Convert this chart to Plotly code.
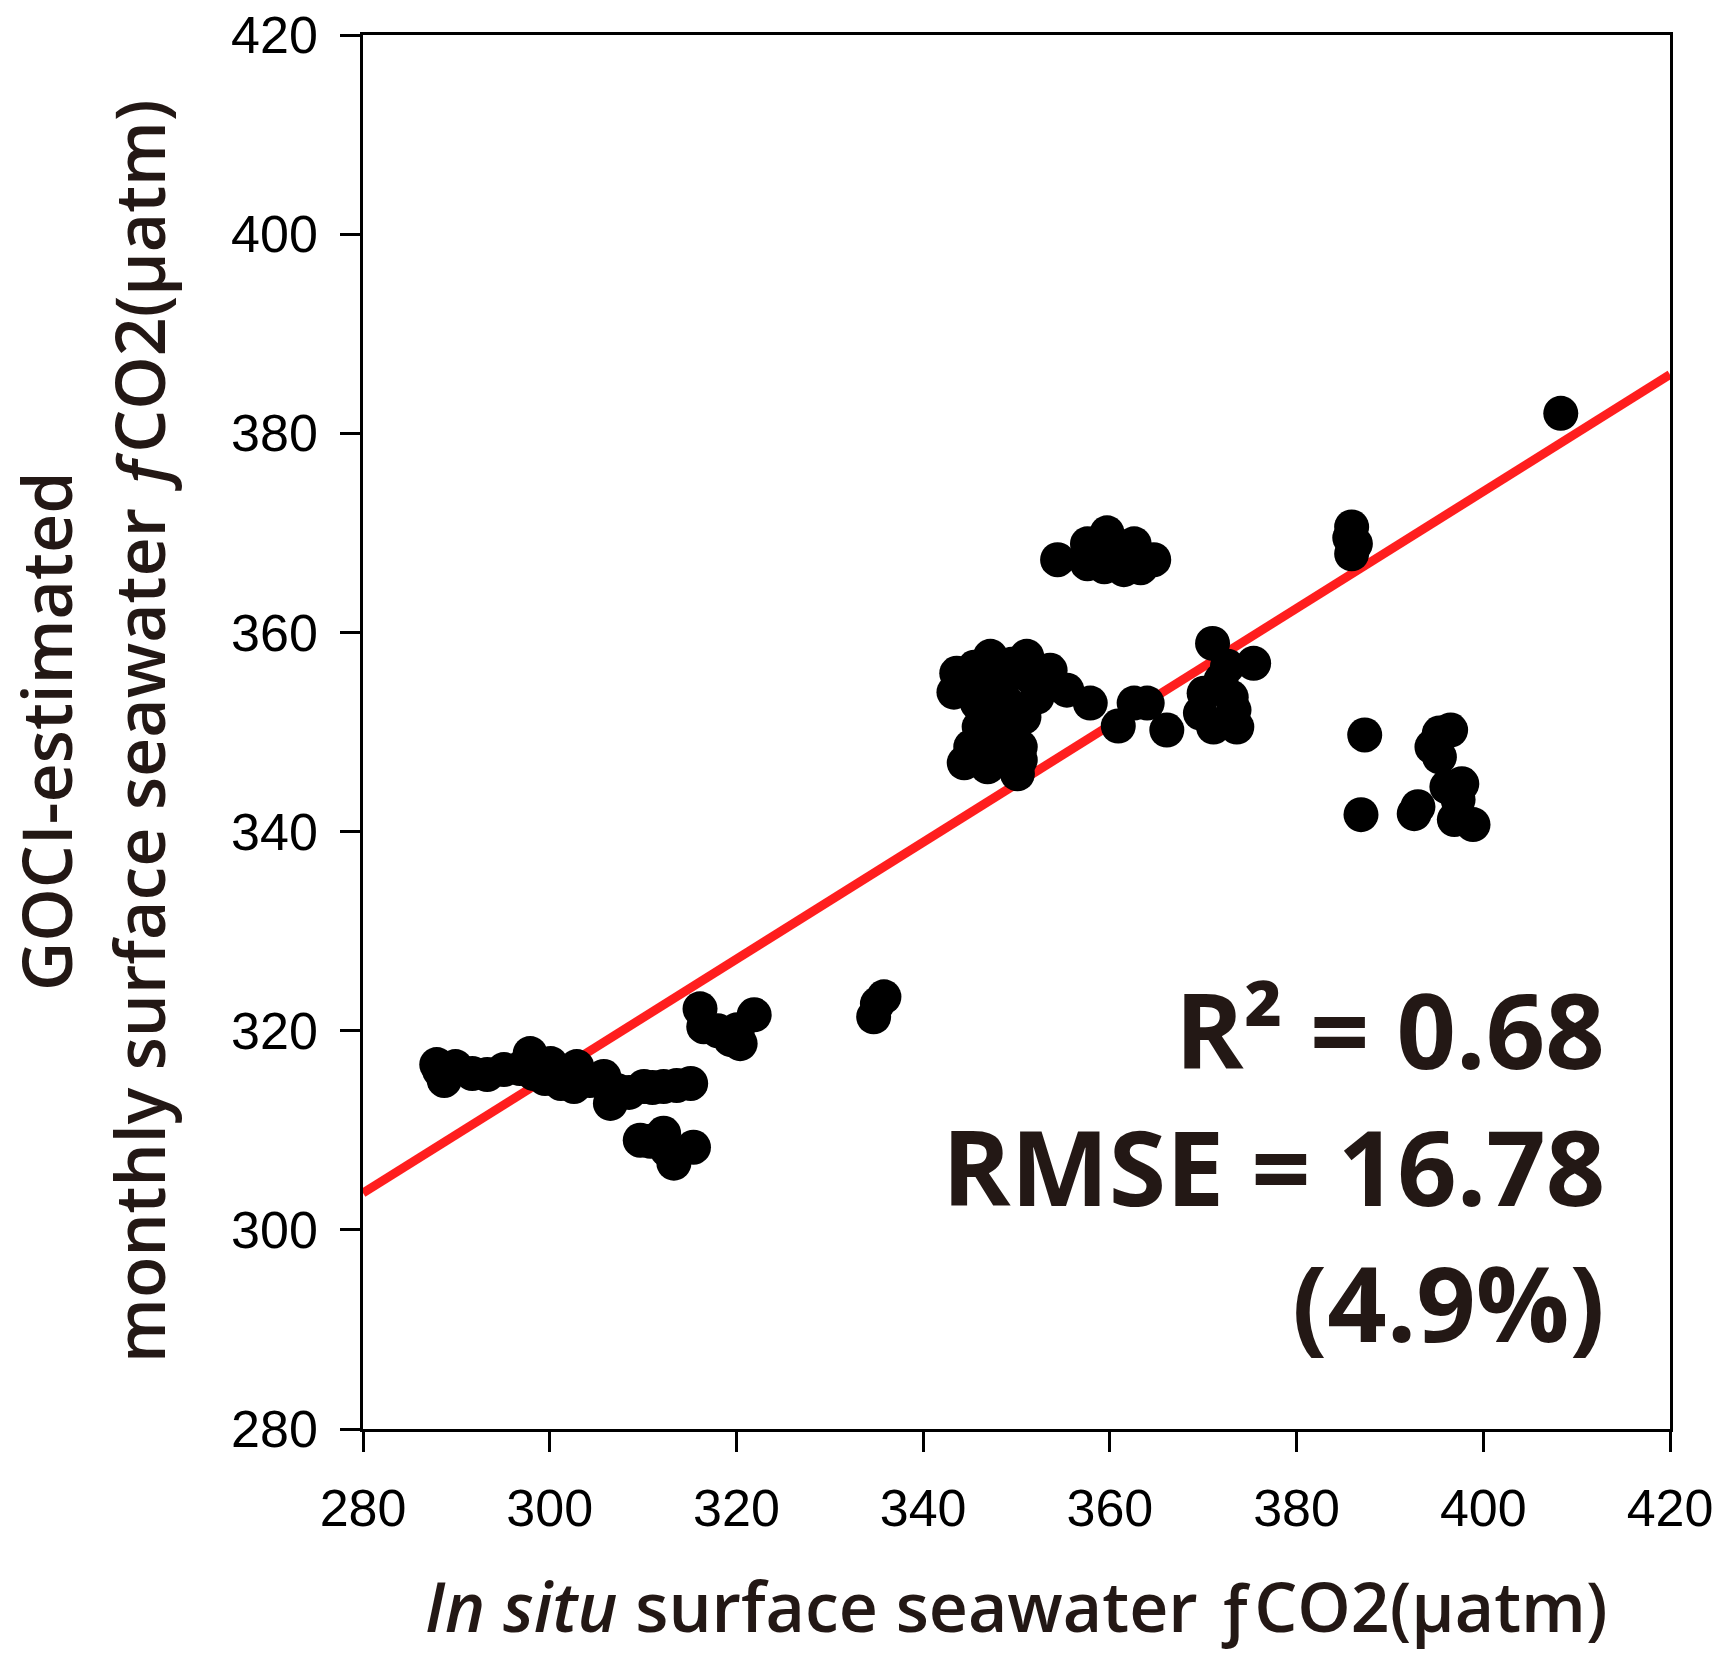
import plotly.graph_objects as go

# ---- data ----
insitu_fco2 = [
    287.9, 288.2, 288.7, 289.9, 291.7, 293.3, 295.1, 296.8, 297.9, 298.3, 299.5, 300.1,
    301.2, 302.9, 302.6, 304.3, 305.8, 306.5, 307.2, 308.5, 310.1, 311.0, 312.2, 313.6, 315.1,
    309.7, 310.8, 312.2, 312.6, 313.3, 315.4,
    316.1, 316.5, 318.0, 319.4, 320.1, 320.4, 321.9,
    334.7, 335.1, 335.8,
    343.3, 343.6, 344.8, 345.5, 345.8, 346.5, 347.2, 348.6, 349.0, 349.5, 351.1, 351.5,
    352.2, 353.6, 355.4, 357.9, 350.8, 348.0, 346.0,
    344.4, 345.1, 346.9, 347.9, 348.5, 349.7, 350.1, 350.4, 350.4,
    360.9, 362.6, 364.0, 366.1,
    369.7, 370.1, 371.0, 371.1, 371.9, 372.6, 373.0, 373.3, 373.6, 375.4,
    354.4, 357.6, 357.6, 358.5, 359.4, 359.7, 361.1, 361.5, 362.6, 363.3, 364.7,
    385.7, 385.9, 385.9, 386.3,
    387.3, 386.9, 392.6, 393.0, 394.5, 395.3, 395.3, 396.1, 396.5, 396.9, 397.3, 397.7, 398.9,
    408.3,
]
goci_fco2 = [
    316.6, 316.0, 315.0, 316.4, 315.7, 315.6, 316.1, 316.2, 317.7, 315.7, 315.2, 316.7,
    314.7, 316.4, 314.4, 315.0, 315.4, 312.7, 314.0, 313.8, 314.4, 314.3, 314.4, 314.5, 314.7,
    309.0, 308.9, 309.7, 308.0, 306.7, 308.3,
    322.2, 320.4, 320.0, 319.1, 320.1, 318.7, 321.6,
    321.4, 322.7, 323.4,
    354.0, 355.9, 355.0, 356.5, 352.9, 354.5, 357.6, 355.2, 352.9, 356.8, 357.6, 355.5,
    353.5, 356.2, 354.2, 352.9, 351.5, 351.0, 350.5,
    346.9, 348.5, 346.5, 349.5, 347.5, 350.5, 345.8, 348.5, 347.2,
    350.6, 352.9, 352.9, 350.2,
    351.9, 353.9, 358.9, 350.5, 355.2, 356.6, 353.5, 352.2, 350.5, 356.9,
    367.3, 368.9, 366.9, 368.0, 366.6, 370.0, 367.9, 366.3, 368.9, 366.5, 367.3,
    369.5, 370.6, 367.9, 368.9,
    349.7, 341.7, 341.8, 342.5, 348.5, 349.9, 347.5, 344.5, 350.2, 341.2, 343.2, 344.8, 340.7,
    382.0,
]
fit_x = [280, 420]
fit_y = [303.7, 385.9]

tick_vals = [280, 300, 320, 340, 360, 380, 400, 420]
tick_text = ["280", "300", "320", "340", "360", "380", "400", "420"]

x_title = "<i>In situ</i> surface seawater ƒCO2(µatm)"
y_title_1 = "GOCI-estimated"
y_title_2 = "monthly surface seawater <i>ƒ</i>CO2(µatm)"
stats_lines = ["R² = 0.68", "RMSE = 16.78", "(4.9%)"]

TEXT_COLOR = "#231815"
TITLE_FONT = dict(family="Open Sans", size=68, color=TEXT_COLOR, weight=600)

fig = go.Figure()
fig.add_trace(go.Scatter(
    x=fit_x, y=fit_y, mode="lines",
    line=dict(color="#ff1e1e", width=9), showlegend=False, hoverinfo="skip",
))
fig.add_trace(go.Scatter(
    x=insitu_fco2, y=goci_fco2, mode="markers",
    marker=dict(color="black", size=35, line=dict(width=0)),
    showlegend=False,
))

axis_common = dict(
    range=[280, 420], tickvals=tick_vals, ticktext=tick_text,
    showgrid=False, zeroline=False,
    showline=True, linecolor="black", linewidth=2.5, mirror=True,
    ticks="outside", ticklen=20, tickwidth=2.5, tickcolor="black",
    tickfont=dict(family="Liberation Sans, Arial, sans-serif", size=52, color="black"),
)
fig.update_xaxes(**axis_common, ticklabelstandoff=12)
fig.update_yaxes(**axis_common, ticklabelstandoff=12)

annotations = [
    dict(text=x_title, xref="paper", yref="paper", x=0.5, y=0, xanchor="center",
         yanchor="middle", yshift=-176, showarrow=False, font=TITLE_FONT),
    dict(text=y_title_1, xref="paper", yref="paper", x=0, y=0.5, xanchor="center",
         yanchor="middle", xshift=-318, textangle=-90, showarrow=False, font=TITLE_FONT),
    dict(text=y_title_2, xref="paper", yref="paper", x=0, y=0.5, xanchor="center",
         yanchor="middle", xshift=-225, textangle=-90, showarrow=False, font=TITLE_FONT),
]
stat_centers_px = [1028, 1165, 1301]  # vertical centre of each line (page px)
for line, cy in zip(stats_lines, stat_centers_px):
    annotations.append(dict(
        text=line, xref="paper", yref="paper", x=(1607 - 363) / 1307,
        y=(1429 - cy) / 1394, xanchor="right", yanchor="middle", showarrow=False,
        font=dict(family="Open Sans", size=104, color=TEXT_COLOR, weight=700),
    ))

fig.update_layout(
    width=1724, height=1661,
    margin=dict(l=363, r=54, t=35, b=232, autoexpand=False),
    paper_bgcolor="white", plot_bgcolor="white",
    annotations=annotations,
)

fig.write_html("out.html", config={"displayModeBar": False},
               post_script="document.body.style.margin='0px';")
